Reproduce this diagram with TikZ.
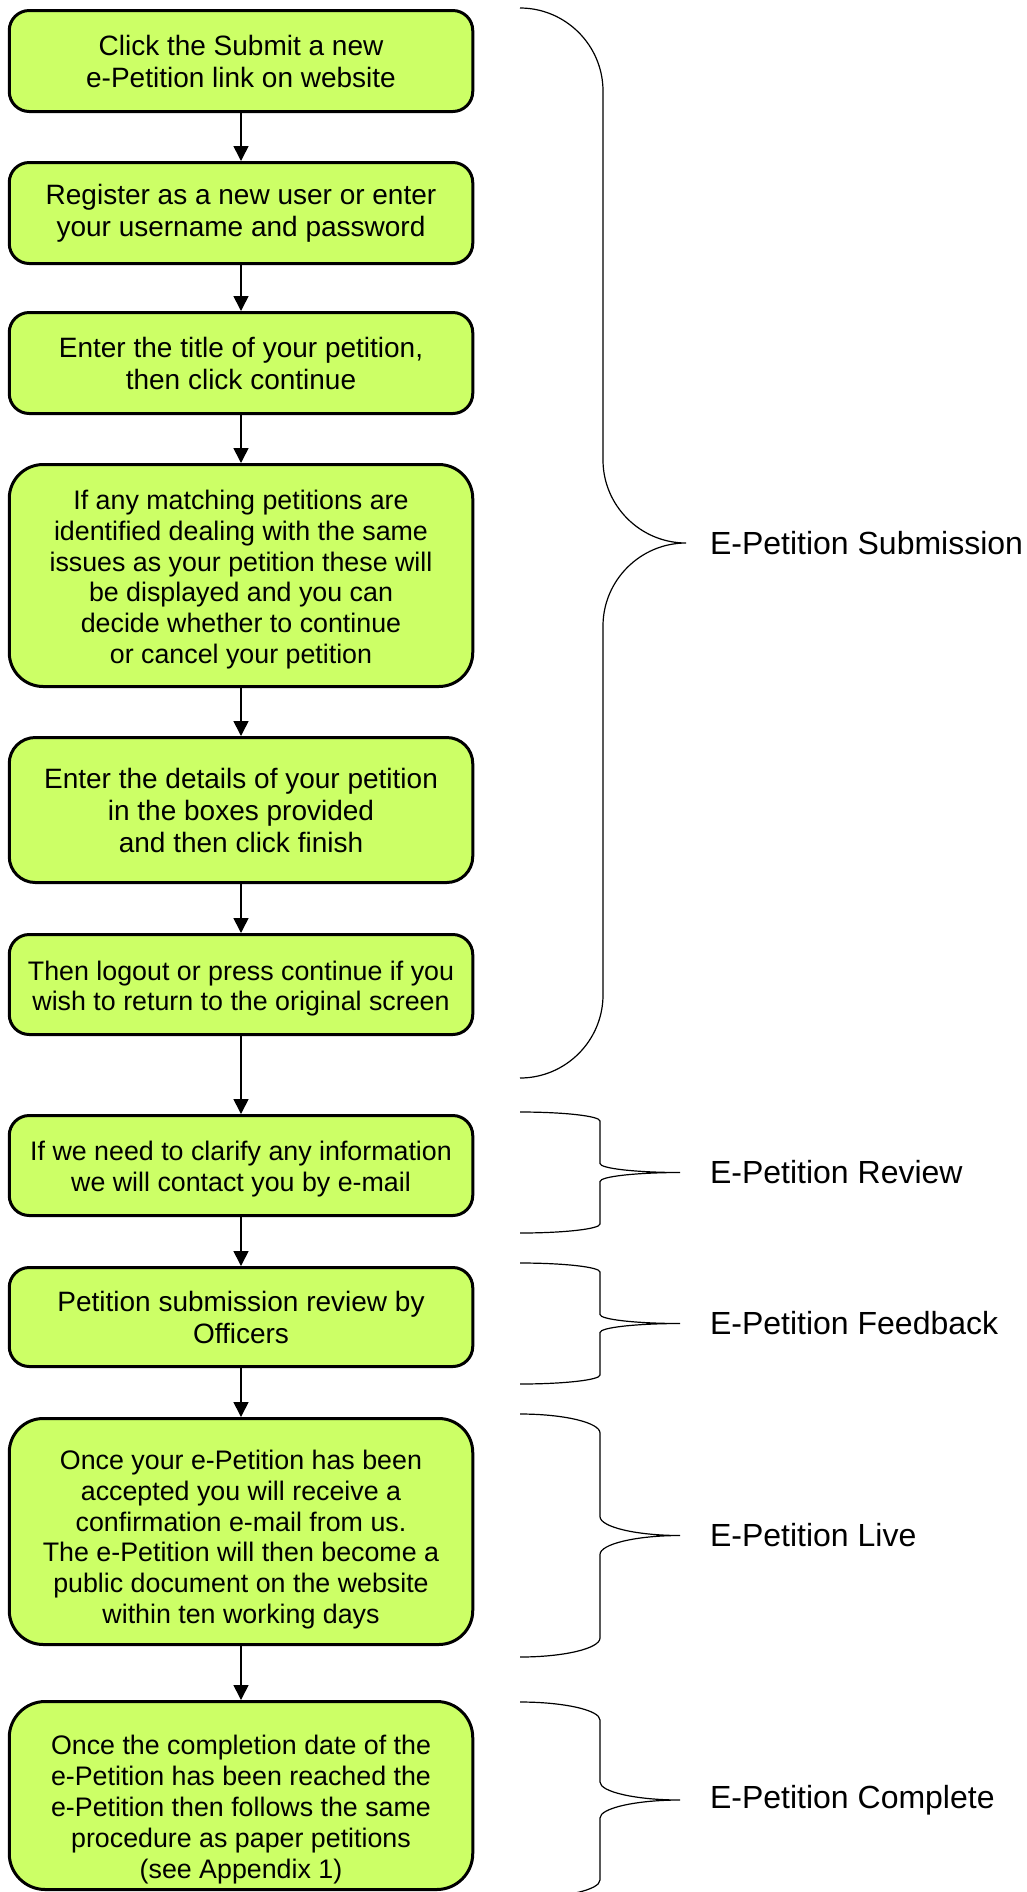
\documentclass[tikz,border=0pt]{standalone}
\usepackage{fontspec}
\setmainfont{Liberation Sans}
\usetikzlibrary{arrows.meta}
\definecolor{boxgreen}{HTML}{CCFF66}
\tikzset{>={Triangle[length=7.5pt,width=7.5pt]}}
\tikzset{
    task/.style={draw, line width=1.5pt, fill=boxgreen, rounded corners=10pt,
        minimum width=231.75pt, align=center, font={\fontsize{14}{16}\selectfont}},
    dense/.style={font={\fontsize{13.4}{15.4}\selectfont}},
    flow/.style={->, line width=0.8pt},
    phaseline/.style={line width=0.6pt}
}
\newcommand{\textdrop}[1]{\rule{0pt}{#1}}
\newcommand{\phase}[6]{
    \pgfmathsetmacro\phasemid{(#2+#3)/2}
    \draw[phaseline] (520,#2) .. controls ({520+0.55*#5},#2) and ({520+#5},{#2+0.45*#4}) .. ({520+#5},{#2+#4})
        -- ({520+#5},{\phasemid-#4}) .. controls ({520+#5},{\phasemid-0.45*#4}) and ({520+1.45*#5},\phasemid) .. ({520+2*#5},\phasemid)
        .. controls ({520+1.45*#5},\phasemid) and ({520+#5},{\phasemid+0.45*#4}) .. ({520+#5},{\phasemid+#4})
        -- ({520+#5},{#3-#4}) .. controls ({520+#5},{#3-0.45*#4}) and ({520+0.55*#5},#3) .. (520,#3);
    \node[anchor=west, font={\fontsize{16}{19}\selectfont}] (#1) at (703,\phasemid) {#6};
}

\begin{document}
\begin{tikzpicture}[x=0.5pt,y=-0.5pt]
    \useasboundingbox (0,0) rectangle (1027,1892);
    \node[task, minimum height=50.5pt] (s1) at (241,61) {Click the Submit a new\\e-Petition link on website};
    \node[task, minimum height=50.5pt] (s2) at (241,213) {Register as a new user or enter\\your username and password};
    \node[task, minimum height=50.5pt] (s3) at (241,363) {Enter the title of your petition,\\then click continue};
    \node[task, dense, minimum height=111pt, rounded corners=17pt] (s4) at (241,575.5)
        {\textdrop{13.8pt}If any matching petitions are\\identified dealing with the same\\issues as your petition these will\\be displayed and you can\\decide whether to continue\\or cancel your petition};
    \node[task, minimum height=72.5pt, rounded corners=13pt] (s5) at (241,810)
        {Enter the details of your petition\\in the boxes provided\\and then click finish};
    \node[task, dense, minimum height=50pt] (s6) at (241,984.5) {\textdrop{13.8pt}Then logout or press continue if you\\wish to return to the original screen};
    \node[task, dense, minimum height=50pt] (s7) at (241,1165.5) {\textdrop{13pt}If we need to clarify any information\\we will contact you by e-mail};
    \node[task, minimum height=49.5pt] (s8) at (241,1317) {Petition submission review by\\Officers};
    \node[task, dense, minimum height=113pt, rounded corners=17pt] (s9) at (241,1531.5)
        {\textdrop{17.8pt}Once your e-Petition has been\\accepted you will receive a\\confirmation e-mail from us.\\The e-Petition will then become a\\public document on the website\\within ten working days};
    \node[task, dense, inner ysep=0pt, minimum height=94pt, rounded corners=18pt] (s10) at (241,1795.5)
        {\textdrop{23.8pt}Once the completion date of the\\e-Petition has been reached the\\e-Petition then follows the same\\procedure as paper petitions\\(see Appendix 1)};
    \draw[flow] (s1) -- (s2);
    \draw[flow] (s2) -- (s3);
    \draw[flow] (s3) -- (s4);
    \draw[flow] (s4) -- (s5);
    \draw[flow] (s5) -- (s6);
    \draw[flow] (s6) -- (s7);
    \draw[flow] (s7) -- (s8);
    \draw[flow] (s8) -- (s9);
    \draw[flow] (s9) -- (s10);
    \phase{submission}{8}{1078}{83}{83}{E-Petition Submission}
    \phase{review}{1112}{1233}{9}{80}{E-Petition Review}
    \phase{feedback}{1263}{1384}{9}{80}{E-Petition Feedback}
    \phase{live}{1414}{1657}{19}{80}{E-Petition Live}
    \phase{complete}{1702}{1898}{18}{80}{E-Petition Complete}
\end{tikzpicture}
\end{document}
